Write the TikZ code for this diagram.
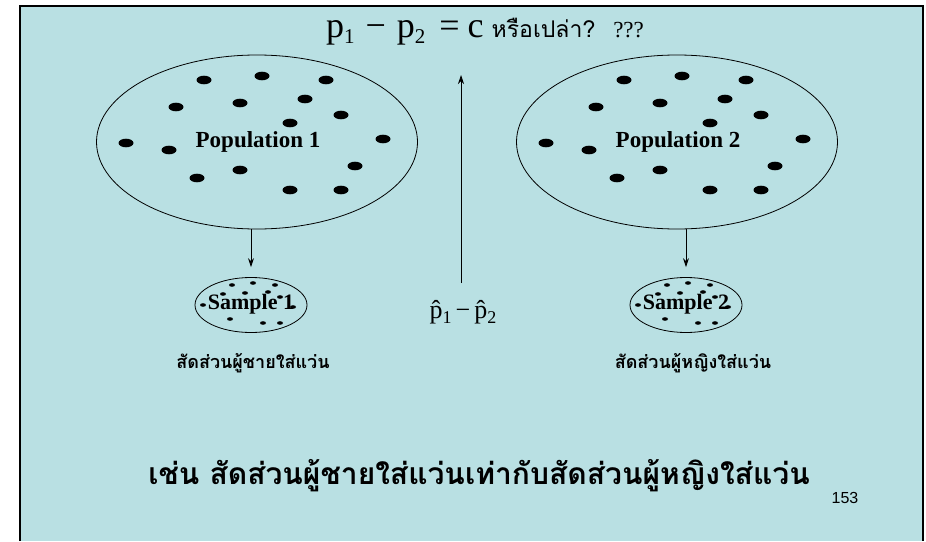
\documentclass[tikz,border=0pt]{standalone}
\usepackage{fontspec}
\setmainfont{Liberation Serif}
\setsansfont{Liberation Sans}
\newfontfamily\thaifont[Script=Thai]{Loma}
\usetikzlibrary{arrows.meta,shapes.geometric}
\definecolor{slidebg}{RGB}{185,224,227}
\tikzset{
  pop/.style={draw, ellipse, line width=0.8pt, minimum width=321pt, minimum height=174pt, inner sep=0pt},
  samp/.style={draw, ellipse, line width=0.8pt, minimum width=112pt, minimum height=55pt, inner sep=0pt},
  poplabel/.style={font=\fontsize{23}{23}\selectfont\bfseries},
  samplabel/.style={font=\fontsize{22}{22}\selectfont\bfseries},
  thailabel/.style={font=\thaifont\fontsize{18}{18}\selectfont\bfseries},
  arr/.style={-{Stealth[length=9pt,width=6pt]}, line width=0.8pt},
}
\newcommand{\bigt}[1]{{\fontsize{36}{36}\selectfont #1}}
\newcommand{\subt}[1]{\raisebox{-6pt}{\fontsize{21}{21}\selectfont #1}}
\begin{document}
\begin{tikzpicture}[x=1pt,y=-1pt]
\useasboundingbox (0,0) rectangle (926,541);
\fill[white] (0,0) rectangle (926,541);
\fill[slidebg] (20,6) rectangle (923,541);
\draw[line width=1.5pt] (20,541) -- (20,6) -- (923,6) -- (923,541);

% title
\node[anchor=base, inner sep=0pt] (title) at (485,37)
  {\bigt{p}\subt{1}\hspace{11pt}\bigt{−}\hspace{11pt}%
   \bigt{p}\subt{2}\hspace{14pt}\bigt{=}\hspace{8pt}%
   \bigt{c}\hspace{8pt}%
   {\thaifont\fontsize{23}{23}\selectfont หรือเปล่า?}\hspace{18pt}{\fontsize{23}{23}\selectfont ???}};

% populations
\node[pop] (pop1) at (257,142) {};
\node[pop] (pop2) at (677,142) {};
\node[poplabel] (pl1) at (258,142) {Population 1};
\node[poplabel] (pl2) at (678,142) {Population 2};
\foreach \p in {(-53,-62),(5,-66),(69,-62),(-81,-35),(-17,-39),(48,-43),(84,-27),(33,-19),(-131,1),(-88,8),(126,-3),(-17,28),(98,24),(-60,36),(33,48),(84,48)}{
  \fill ([shift={\p}]pop1.center) ellipse (7.5 and 4.3);
  \fill ([shift={\p}]pop2.center) ellipse (7.5 and 4.3);
}

% samples
\node[samp] (s1) at (251,305) {};
\node[samp] (s2) at (686,305) {};
\node[samplabel] (sl1) at (251,304) {Sample 1};
\node[samplabel] (sl2) at (686,304) {Sample 2};
\foreach \p in {(-19,-20),(2,-22),(24,-20),(-28,-11),(-6,-12),(17,-13),(29,-8),(-48,0),(42,2),(-21,14),(12,18),(29,18)}{
  \fill ([shift={\p}]s1.center) ellipse (3 and 1.8);
  \fill ([shift={\p}]s2.center) ellipse (3 and 1.8);
}

% arrows
\draw[arr] (pop1.south -| s1.north) -- ([yshift=10pt]s1.north);
\draw[arr] (pop2.south -| s2.north) -- ([yshift=10pt]s2.north);
\coordinate (mb) at (461,283);
\coordinate (mt) at (461,75);
\draw[arr] (mb) -- (mt);
\node[font=\fontsize{26}{26}\selectfont] (phat) at (463,312)
  {\^{p}\raisebox{-5pt}{\fontsize{18}{18}\selectfont 1}\hspace{4pt}−\hspace{4pt}\^{p}\raisebox{-5pt}{\fontsize{18}{18}\selectfont 2}};

% thai labels
\node[thailabel] (t1) at (253,363) {สัดส่วนผู้ชายใส่แว่น};
\node[thailabel] (t2) at (693,363) {สัดส่วนผู้หญิงใส่แว่น};
\node[font=\thaifont\fontsize{30}{30}\selectfont\bfseries] (bottom) at (479,476)
  {เช่น สัดส่วนผู้ชายใส่แว่นเท่ากับสัดส่วนผู้หญิงใส่แว่น};
\node[font=\sffamily\fontsize{16}{16}\selectfont] (pg) at (845,498) {153};
\end{tikzpicture}
\end{document}
